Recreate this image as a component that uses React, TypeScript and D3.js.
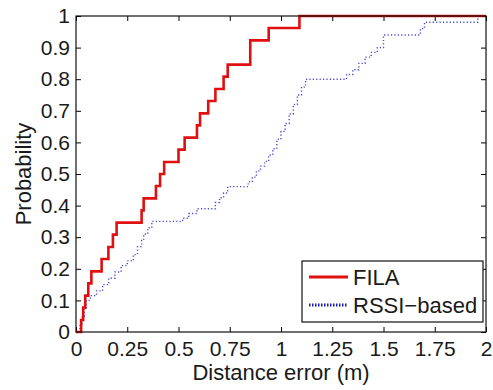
import React, { useEffect, useRef } from 'react';
import * as d3 from 'd3';

// FILA cdf: step positions (m) and probability after each step
const filaX = [0, 0.025, 0.035, 0.045, 0.06, 0.075, 0.125, 0.158, 0.18, 0.198, 0.32, 0.33, 0.39, 0.41, 0.43, 0.5, 0.53, 0.59, 0.605, 0.645, 0.68, 0.72, 0.74, 0.85, 0.94, 1.09, 2];
const filaP = [0, 0.038, 0.077, 0.115, 0.154, 0.192, 0.231, 0.269, 0.308, 0.346, 0.385, 0.423, 0.462, 0.5, 0.538, 0.577, 0.615, 0.654, 0.692, 0.731, 0.769, 0.808, 0.846, 0.923, 0.962, 1, 1];

// RSSI-based cdf
const rssiX = [0, 0.02, 0.03, 0.04, 0.05, 0.07, 0.1, 0.13, 0.16, 0.19, 0.22, 0.25, 0.28, 0.3, 0.32, 0.33, 0.35, 0.37, 0.39, 0.52, 0.55, 0.59, 0.68, 0.7, 0.72, 0.74, 0.84, 0.86, 0.88, 0.9, 0.92, 0.94, 0.96, 0.98, 1.0, 1.02, 1.04, 1.06, 1.08, 1.1, 1.12, 1.32, 1.35, 1.38, 1.41, 1.44, 1.47, 1.5, 1.68, 1.7, 1.96, 2];
const rssiP = [0, 0.02, 0.05, 0.075, 0.1, 0.115, 0.13, 0.15, 0.17, 0.19, 0.21, 0.225, 0.245, 0.27, 0.29, 0.31, 0.33, 0.35, 0.35, 0.36, 0.375, 0.39, 0.41, 0.425, 0.44, 0.46, 0.475, 0.49, 0.51, 0.525, 0.54, 0.56, 0.58, 0.61, 0.635, 0.66, 0.69, 0.72, 0.75, 0.775, 0.8, 0.815, 0.83, 0.85, 0.87, 0.885, 0.9, 0.94, 0.96, 0.98, 1, 1];

const xTicks = [0, 0.25, 0.5, 0.75, 1, 1.25, 1.5, 1.75, 2];
const yTicks = [0, 0.1, 0.2, 0.3, 0.4, 0.5, 0.6, 0.7, 0.8, 0.9, 1];

const W = 493;
const H = 390;
const FONT = '"Liberation Sans", Arial, sans-serif';

const App: React.FC = () => {
  const svgRef = useRef<SVGSVGElement | null>(null);

  useEffect(() => {
    if (!svgRef.current) return;
    const svg = d3.select(svgRef.current);
    svg.selectAll('*').remove();

    const margin = { top: 16, right: 7, bottom: 58, left: 76 };
    const width = W - margin.left - margin.right;
    const height = H - margin.top - margin.bottom;

    const g = svg.append('g').attr('transform', `translate(${margin.left},${margin.top})`);

    const x = d3.scaleLinear().domain([0, 2]).range([0, width]);
    const y = d3.scaleLinear().domain([0, 1]).range([height, 0]);

    // axes with inward ticks (matlab style)
    const tl = 5;
    g.append('g')
      .attr('transform', `translate(0,${height})`)
      .call(d3.axisBottom(x).tickValues(xTicks).tickSizeInner(-tl).tickSizeOuter(0).tickPadding(9).tickFormat(d => String(d)))
      .call(a => a.select('.domain').remove())
      .selectAll('text')
      .style('font-family', FONT)
      .style('font-size', '21px')
      .attr('fill', '#1a1a1a');

    g.append('g')
      .call(d3.axisTop(x).tickValues(xTicks).tickSizeInner(-tl).tickSizeOuter(0).tickFormat(() => ''))
      .call(a => a.select('.domain').remove());

    g.append('g')
      .call(d3.axisLeft(y).tickValues(yTicks).tickSizeInner(-tl).tickSizeOuter(0).tickPadding(6).tickFormat(d => String(d)))
      .call(a => a.select('.domain').remove())
      .selectAll('text')
      .style('font-family', FONT)
      .style('font-size', '21px')
      .attr('fill', '#1a1a1a');

    g.append('g')
      .attr('transform', `translate(${width},0)`)
      .call(d3.axisRight(y).tickValues(yTicks).tickSizeInner(-tl).tickSizeOuter(0).tickFormat(() => ''))
      .call(a => a.select('.domain').remove());

    const line = d3.line<[number, number]>()
      .x(d => x(d[0]))
      .y(d => y(d[1]))
      .curve(d3.curveStepAfter);

    const rssiPts = rssiX.map((v, i) => [v, rssiP[i]] as [number, number]);
    const filaPts = filaX.map((v, i) => [v, filaP[i]] as [number, number]);

    g.append('path')
      .attr('d', line(rssiPts))
      .attr('fill', 'none')
      .attr('stroke', '#4848d0')
      .attr('stroke-width', 1.4)
      .attr('stroke-dasharray', '1.2,2.2');

    g.append('path')
      .attr('d', line(filaPts))
      .attr('fill', 'none')
      .attr('stroke', '#e01010')
      .attr('stroke-width', 2.6);

    // box
    g.append('rect')
      .attr('width', width)
      .attr('height', height)
      .attr('fill', 'none')
      .attr('stroke', '#111')
      .attr('stroke-width', 1.2);

    // axis labels
    g.append('text')
      .attr('x', width / 2)
      .attr('y', height + 48)
      .attr('text-anchor', 'middle')
      .style('font-family', FONT)
      .style('font-size', '22px')
      .attr('fill', '#1a1a1a')
      .text('Distance error (m)');

    g.append('text')
      .attr('transform', 'rotate(-90)')
      .attr('x', -height / 2)
      .attr('y', -margin.left + 31)
      .attr('text-anchor', 'middle')
      .style('font-family', FONT)
      .style('font-size', '22px')
      .attr('fill', '#1a1a1a')
      .text('Probability');

    // legend
    const lg = g.append('g').attr('transform', `translate(${width - 184},${height - 71})`);
    lg.append('rect')
      .attr('width', 181)
      .attr('height', 61)
      .attr('fill', '#fff')
      .attr('stroke', '#111')
      .attr('stroke-width', 1.2);
    const items = [
      { name: 'FILA', color: '#e01010', w: 3, dash: null as string | null },
      { name: 'RSSI\u2212based', color: '#1a1ab8', w: 3, dash: '1.5,1.5' },
    ];
    items.forEach((it, i) => {
      const yy = 16 + i * 28;
      lg.append('line')
        .attr('x1', 7).attr('x2', 46)
        .attr('y1', yy).attr('y2', yy)
        .attr('stroke', it.color)
        .attr('stroke-width', it.w)
        .attr('stroke-dasharray', it.dash);
      lg.append('text')
        .attr('x', 51)
        .attr('y', yy + 8)
        .style('font-family', FONT)
        .style('font-size', '22px')
        .attr('fill', '#1a1a1a')
        .text(it.name);
    });
  }, []);

  return (
    <svg ref={svgRef} width={W} height={H} style={{ position: 'absolute', left: 0, top: 0, background: '#fff' }} />
  );
};

export default App;
